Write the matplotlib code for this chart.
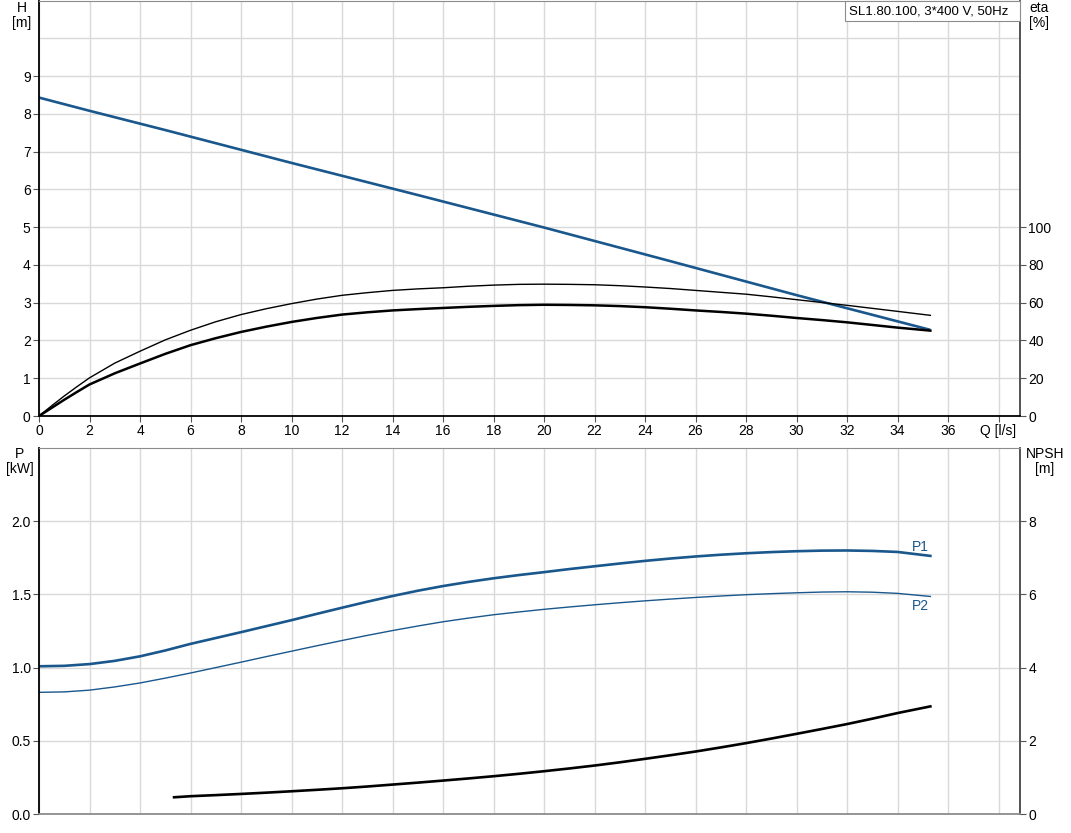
import numpy as np
import matplotlib
matplotlib.use('Agg')
import matplotlib.pyplot as plt
from matplotlib.patches import Rectangle

plt.rcParams['font.family'] = ['Liberation Sans', 'DejaVu Sans']
plt.rcParams['font.size'] = 10

# pump curve readings, Q in l/s
q_h = [0, 2, 5, 10, 15, 20, 25, 30, 35.3]
h = [8.43, 8.08, 7.57, 6.70, 5.85, 4.99, 4.10, 3.20, 2.28]

q_eta = [0, 0.5, 1, 1.5, 2, 3, 4, 5, 6, 7, 8, 9, 10, 11, 12, 13, 14, 15, 16, 17, 18,
         19, 20, 21, 22, 23, 24, 25, 26, 27, 28, 29, 30, 31, 32, 33, 34, 35.3]
eta_thin = [0, 5.4, 10.6, 15.5, 20.2, 28.0, 34.3, 40.3, 45.4, 49.9, 53.7, 56.8, 59.5,
            61.9, 63.9, 65.3, 66.5, 67.3, 67.9, 68.7, 69.3, 69.7, 69.8, 69.7, 69.5,
            69.0, 68.3, 67.5, 66.5, 65.5, 64.5, 63.1, 61.6, 60.1, 58.6, 57.0, 55.4, 53.3]
eta_thick = [0, 4.3, 8.6, 12.7, 16.7, 22.6, 27.8, 32.9, 37.5, 41.2, 44.5, 47.3, 49.8,
             51.9, 53.7, 54.9, 55.9, 56.6, 57.2, 57.8, 58.3, 58.7, 58.9, 58.8, 58.6,
             58.2, 57.6, 56.8, 55.9, 55.1, 54.2, 53.1, 51.9, 50.8, 49.6, 48.2, 46.8, 45.2]

q_p = [0, 1, 2, 3, 4, 5, 6, 7, 8, 9, 10, 11, 12, 13, 14, 15, 16, 17, 18, 19, 20, 21,
       22, 23, 24, 25, 26, 27, 28, 29, 30, 31, 32, 33, 34, 35.3]
p1 = [1.009, 1.012, 1.024, 1.046, 1.077, 1.117, 1.162, 1.202, 1.242, 1.283, 1.324,
      1.367, 1.409, 1.450, 1.489, 1.525, 1.557, 1.585, 1.610, 1.632, 1.652, 1.673,
      1.692, 1.711, 1.729, 1.745, 1.759, 1.771, 1.781, 1.789, 1.795, 1.799, 1.800,
      1.797, 1.790, 1.763]
p2 = [0.831, 0.834, 0.846, 0.868, 0.895, 0.928, 0.963, 1.000, 1.037, 1.075, 1.112,
      1.149, 1.185, 1.220, 1.253, 1.284, 1.313, 1.338, 1.361, 1.380, 1.398, 1.414,
      1.429, 1.443, 1.456, 1.468, 1.479, 1.489, 1.498, 1.505, 1.511, 1.516, 1.518,
      1.515, 1.507, 1.486]

q_npsh = [5.35, 6, 7, 8, 9, 10, 11, 12, 13, 14, 15, 16, 17, 18, 19, 20, 21, 22, 23,
          24, 25, 26, 27, 28, 29, 30, 31, 32, 33, 34, 35.3]
npsh = [0.457, 0.486, 0.516, 0.548, 0.583, 0.621, 0.661, 0.703, 0.751, 0.804, 0.857,
        0.913, 0.971, 1.032, 1.098, 1.169, 1.244, 1.324, 1.412, 1.507, 1.605, 1.707,
        1.819, 1.936, 2.061, 2.19, 2.322, 2.457, 2.604, 2.758, 2.94]

xticks = list(range(0, 40, 2))
xlabels = [str(v) for v in xticks[:-1]] + ['Q [l/s]']

blue = '#19578c'
gridc = '#d9d9d9'

fig = plt.figure(figsize=(10.71, 8.33), dpi=100)
ax1 = fig.add_axes([39/1071, 1-416/833, 981/1071, 415.5/833])
ax3 = fig.add_axes([39/1071, 1-814/833, 981/1071, 366/833])

def style(ax):
    ax.set_xlim(0, 38.85)
    ax.set_xticks(xticks)
    ax.grid(True, color=gridc, lw=1)
    ax.set_axisbelow(True)
    ax.spines['left'].set_color('black')
    ax.spines['bottom'].set_color('black')
    ax.spines['left'].set_linewidth(1.3)
    ax.spines['bottom'].set_linewidth(1.3)
    ax.spines['top'].set_color('#8c8c8c')
    ax.spines['right'].set_color('#444444')
    ax.spines['right'].set_linewidth(1.3)
    ax.tick_params(length=4, color='#555555', pad=2)

# top panel: head + efficiency
style(ax1)
ax1.set_ylim(0, 11)
ax1.set_yticks(range(0, 10))
ax1.axhline(10, color=gridc, lw=1, zorder=0)
ax1.set_xticklabels(xlabels)
ax1.plot(q_h, h, color=blue, lw=1.9, solid_capstyle='butt')

ax2 = ax1.twinx()
ax2.set_ylim(0, 220)
ax2.set_yticks(range(0, 101, 20))
ax2.tick_params(length=4, color='#555555', pad=2)
for s in ax2.spines.values():
    s.set_visible(False)
ax2.plot(q_eta, eta_thin, color='black', lw=1.0)
ax2.plot(q_eta, eta_thick, color='black', lw=1.8)

ax1.text(-0.0175, 10.6, 'H\n[m]', transform=ax1.get_yaxis_transform(),
         ha='center', va='center', linespacing=1.1)
ax1.text(1.019, 10.6, 'eta\n[%]', transform=ax1.get_yaxis_transform(),
         ha='center', va='center', linespacing=1.1)
ax1.add_patch(Rectangle((0.8216, 0.9495), 0.1784, 0.0505, transform=ax1.transAxes,
                        fc='white', ec='#8c8c8c', lw=0.8, zorder=5, clip_on=False))
ax1.text(0.8257, 0.9747, 'SL1.80.100, 3*400 V, 50Hz', transform=ax1.transAxes,
         ha='left', va='center', fontsize=9.5, zorder=6)

# bottom panel: power + NPSH
style(ax3)
ax3.set_ylim(0, 2.5)
ax3.set_yticks([0, 0.5, 1.0, 1.5, 2.0])
ax3.set_yticklabels(['0.0', '0.5', '1.0', '1.5', '2.0'])
ax3.tick_params(axis='x', length=0, labelbottom=False)
ax3.spines['bottom'].set_color('#8c8c8c')
ax3.plot(q_p, p1, color=blue, lw=1.9)
ax3.plot(q_p, p2, color=blue, lw=1.0)
ax3.text(34.9, 1.822, 'P1', color=blue, ha='center', va='center')
ax3.text(34.9, 1.418, 'P2', color=blue, ha='center', va='center')

ax4 = ax3.twinx()
ax4.set_ylim(0, 10)
ax4.set_yticks(range(0, 9, 2))
ax4.tick_params(length=4, color='#555555', pad=2)
for s in ax4.spines.values():
    s.set_visible(False)
ax4.plot(q_npsh, npsh, color='black', lw=1.9)

ax3.text(-0.0195, 2.405, 'P\n[kW]', transform=ax3.get_yaxis_transform(),
         ha='center', va='center', linespacing=1.1)
ax3.text(1.0255, 2.405, 'NPSH\n[m]', transform=ax3.get_yaxis_transform(),
         ha='center', va='center', linespacing=1.1)

plt.savefig('out.png', dpi=100)
